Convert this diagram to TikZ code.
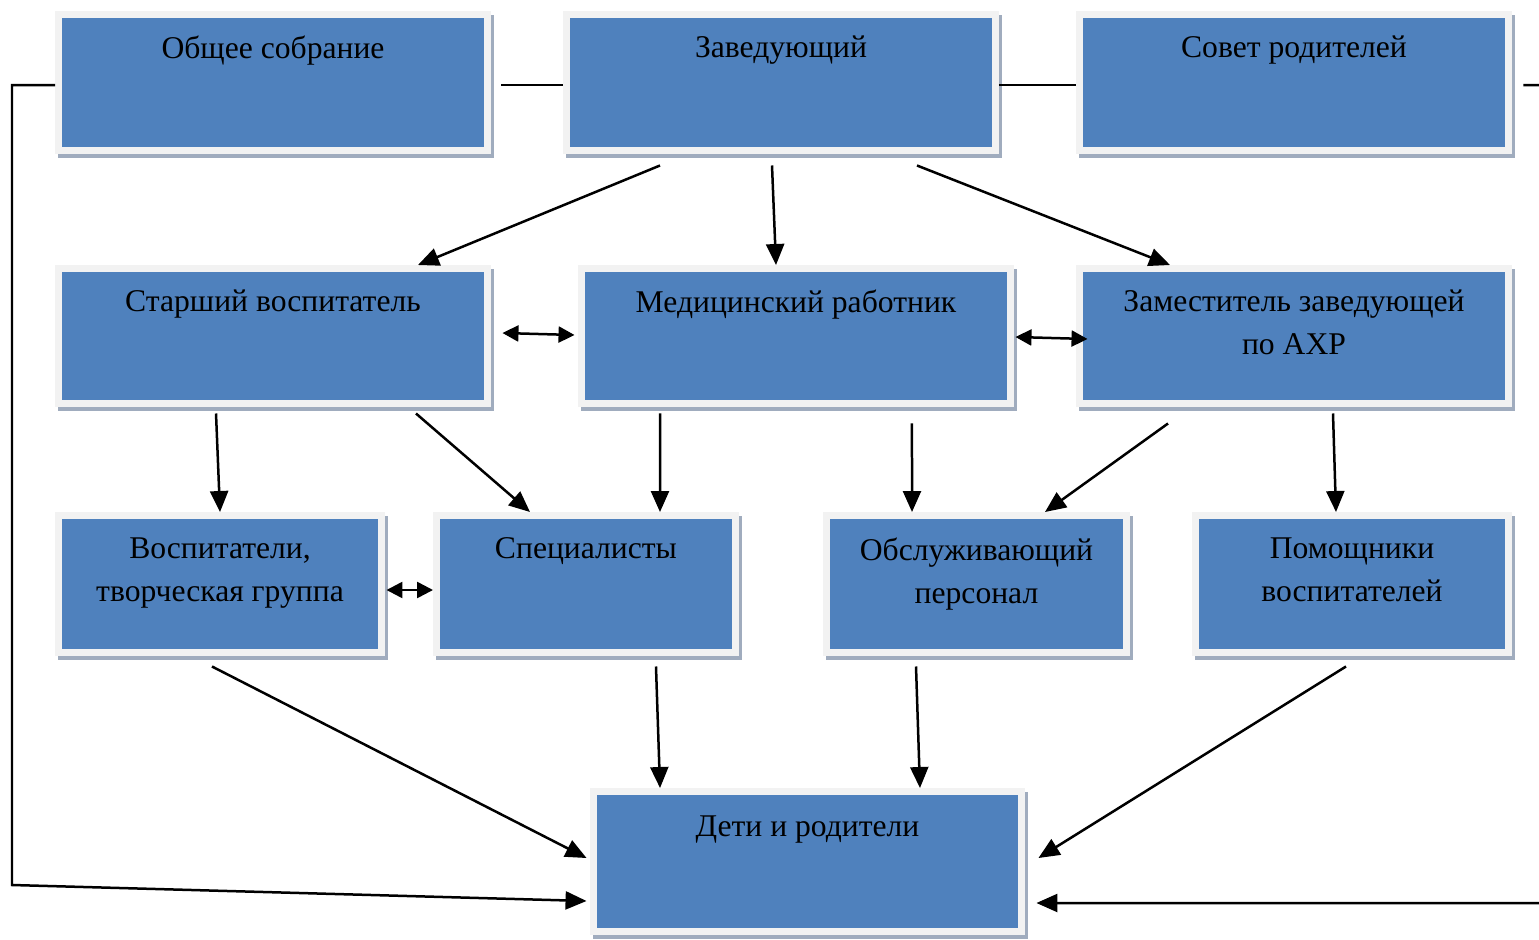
\documentclass[tikz,border=0pt]{standalone}
\usepackage{fontspec}
\setmainfont{Liberation Serif}
\usepackage{tikz}
\usetikzlibrary{arrows.meta,shadows}
\definecolor{sinij}{RGB}{79,129,189}
\definecolor{ramka}{RGB}{242,242,242}
\definecolor{tenj}{RGB}{160,172,190}

\begin{document}
\begin{tikzpicture}[x=0.02cm, y=-0.02cm,
  blok/.style={rectangle, fill=sinij, draw=ramka, line width=0.14cm,
    general shadow={draw=tenj, fill=tenj, line width=0.14cm, shadow xshift=0.06cm, shadow yshift=-0.08cm}},
  tekst/.style={anchor=north, align=center, inner sep=0pt, font=\fontsize{18}{24.5}\selectfont},
  linija/.style={line width=0.05cm},
  strel/.style={linija, -{Triangle[length=0.42cm, width=0.36cm]}},
  dvstrel/.style={linija, {Triangle[length=0.32cm, width=0.32cm]}-{Triangle[length=0.32cm, width=0.32cm]}}]
\useasboundingbox (0,0) rectangle (1539,940);

\node[blok, minimum width=8.58cm, minimum height=2.72cm] (obsh) at (273,82.5) {};
\node[blok, minimum width=8.58cm, minimum height=2.72cm] (zav) at (781,82.5) {};
\node[blok, minimum width=8.58cm, minimum height=2.72cm] (sovet) at (1294,82.5) {};
\node[blok, minimum width=8.58cm, minimum height=2.7cm] (starsh) at (273,336) {};
\node[blok, minimum width=8.58cm, minimum height=2.7cm] (med) at (796,336) {};
\node[blok, minimum width=8.58cm, minimum height=2.7cm] (zam) at (1294,336) {};
\node[blok, minimum width=6.46cm, minimum height=2.74cm] (vosp) at (220,584) {};
\node[blok, minimum width=5.98cm, minimum height=2.74cm] (spec) at (586,584) {};
\node[blok, minimum width=6.0cm, minimum height=2.74cm] (obsl) at (976.5,584) {};
\node[blok, minimum width=6.26cm, minimum height=2.74cm] (pom) at (1352,584) {};
\node[blok, minimum width=8.56cm, minimum height=2.8cm] (deti) at (807.5,861.5) {};

\node[tekst] (obsh-t) at ([yshift=-0.48cm]obsh.north) {Общее собрание};
\node[tekst] (zav-t) at ([yshift=-0.48cm]zav.north) {Заведующий};
\node[tekst] (sovet-t) at ([yshift=-0.48cm]sovet.north) {Совет родителей};
\node[tekst] (starsh-t) at ([yshift=-0.48cm]starsh.north) {Старший воспитатель};
\node[tekst] (med-t) at ([yshift=-0.48cm]med.north) {Медицинский работник};
\node[tekst] (zam-t) at ([yshift=-0.48cm]zam.north) {Заместитель заведующей\\по АХР};
\node[tekst] (vosp-t) at ([yshift=-0.5cm]vosp.north) {Воспитатели,\\творческая группа};
\node[tekst] (spec-t) at ([yshift=-0.5cm]spec.north) {Специалисты};
\node[tekst] (obsl-t) at ([yshift=-0.5cm]obsl.north) {Обслуживающий\\персонал};
\node[tekst] (pom-t) at ([yshift=-0.5cm]pom.north) {Помощники\\воспитателей};
\node[tekst] (deti-t) at ([yshift=-0.55cm]deti.north) {Дети и родители};

\coordinate (ugol1) at (12,85);
\coordinate (ugol2) at (12,885);
\coordinate (kraj1) at (1539,85);
\coordinate (kraj2) at (1539,903);

\draw[linija] ([xshift=0.21cm,yshift=-0.05cm]obsh.east) -- ([yshift=-0.05cm]zav.west);
\draw[linija] ([yshift=-0.05cm]zav.east) -- ([yshift=-0.05cm]sovet.west);
\draw[linija] ([xshift=0.23cm,yshift=-0.05cm]sovet.east) -- (kraj1);
\draw[strel] ([yshift=-0.05cm]obsh.west) -- (ugol1) -- (ugol2) -- ([xshift=-0.07cm,yshift=-0.79cm]deti.west);
\draw[strel] (kraj2) -- ([xshift=0.23cm,yshift=-0.83cm]deti.east);

\draw[strel] ([xshift=-2.42cm,yshift=-0.23cm]zav.south) -- ([xshift=2.9cm]starsh.north);
\draw[strel] ([xshift=-0.18cm,yshift=-0.23cm]zav.south) -- ([xshift=-0.4cm]med.north);
\draw[strel] ([xshift=2.72cm,yshift=-0.23cm]zav.south) -- ([xshift=-2.48cm]zam.north);
\draw[dvstrel] ([xshift=0.23cm,yshift=0.06cm]starsh.east) -- ([xshift=-0.07cm,yshift=0.02cm]med.west);
\draw[dvstrel] ([xshift=0.03cm,yshift=-0.02cm]med.east) -- ([xshift=0.23cm,yshift=-0.06cm]zam.west);

\draw[strel] ([xshift=-1.14cm,yshift=-0.13cm]starsh.south) -- (vosp.north);
\draw[strel] ([xshift=2.86cm,yshift=-0.13cm]starsh.south) -- ([xshift=-1.12cm]spec.north);
\draw[strel] ([xshift=-2.72cm,yshift=-0.13cm]med.south) -- ([xshift=1.48cm]spec.north);
\draw[strel] ([xshift=2.32cm,yshift=-0.33cm]med.south) -- ([xshift=-1.29cm]obsl.north);
\draw[strel] ([xshift=-2.52cm,yshift=-0.33cm]zam.south) -- ([xshift=1.37cm]obsl.north);
\draw[strel] ([xshift=0.78cm,yshift=-0.13cm]zam.south) -- ([xshift=-0.32cm]pom.north);
\draw[dvstrel] ([xshift=0.03cm,yshift=-0.12cm]vosp.east) -- ([yshift=-0.12cm]spec.west);

\draw[strel] ([xshift=-0.16cm,yshift=-0.21cm]vosp.south) -- ([xshift=-0.07cm,yshift=0.07cm]deti.west);
\draw[strel] ([xshift=1.4cm,yshift=-0.21cm]spec.south) -- ([xshift=-2.95cm]deti.north);
\draw[strel] ([xshift=-1.21cm,yshift=-0.21cm]obsl.south) -- ([xshift=2.25cm]deti.north);
\draw[strel] ([xshift=-0.12cm,yshift=-0.21cm]pom.south) -- ([xshift=0.27cm,yshift=0.07cm]deti.east);
\end{tikzpicture}
\end{document}
